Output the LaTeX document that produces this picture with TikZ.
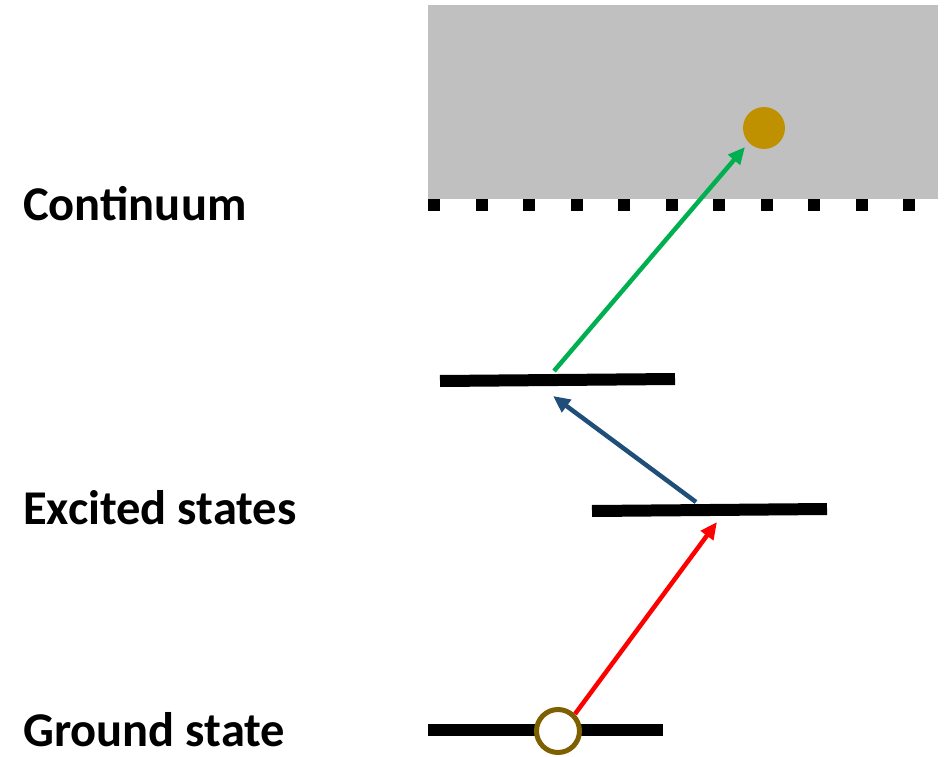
\documentclass[tikz,border=0pt]{standalone}
\usepackage{fontspec}
\setmainfont{Carlito}
\usetikzlibrary{arrows.meta}
\definecolor{contgray}{HTML}{C0C0C0}
\definecolor{goldc}{HTML}{BF9000}
\definecolor{ringc}{HTML}{7F6000}
\definecolor{greenc}{HTML}{00B050}
\definecolor{bluec}{HTML}{1F4E79}
\definecolor{redc}{HTML}{FF0000}
\tikzset{
  level/.style={line width=12pt},
  transition/.style={line width=4.5pt,-{Triangle[length=17pt,width=15pt]}},
  label/.style={anchor=base west,inner sep=0pt,font=\fontsize{48.5}{54}\selectfont\bfseries},
  dotsq/.style={fill=black,minimum size=12pt,inner sep=0pt,anchor=north west}
}
\begin{document}
\begin{tikzpicture}[x=1pt,y=-1pt]
\useasboundingbox (0,0) rectangle (948,757);
% continuum
\fill[contgray] (428,5) rectangle (938,199);
\foreach \i in {0,...,10}{
  \node[dotsq] (sq\i) at ({428+47.5*\i},199) {};
}
% labels
\node[label] (lc) at (23,220) {Continuum};
\node[label] (le) at (23,524) {Excited states};
\node[label] (lg) at (23,746) {Ground state};
% levels
\coordinate (e2l) at (440,381);
\coordinate (e2r) at (675,379);
\coordinate (e1l) at (592,511);
\coordinate (e1r) at (827,509);
\coordinate (gl) at (428,730);
\coordinate (gr) at (663,730);
\draw[level] (e2l) -- (e2r);
\draw[level] (e1l) -- (e1r);
\draw[level] (gl) -- (gr);
% electron
\node[circle,fill=goldc,minimum size=42pt,inner sep=0pt] (el) at (764,128) {};
% hole
\node[circle,draw=ringc,line width=5pt,fill=white,minimum size=43pt,inner sep=0pt] (hole) at (558,731) {};
% transitions
\coordinate (r0) at (575,714);
\coordinate (r1) at (717,522);
\coordinate (b0) at (696,502);
\coordinate (b1) at (553,396);
\coordinate (g0) at (554,371);
\coordinate (g1) at (745,147);
\draw[transition,redc] (r0) -- (r1);
\draw[transition,bluec] (b0) -- (b1);
\draw[transition,greenc] (g0) -- (g1);
\end{tikzpicture}
\end{document}
